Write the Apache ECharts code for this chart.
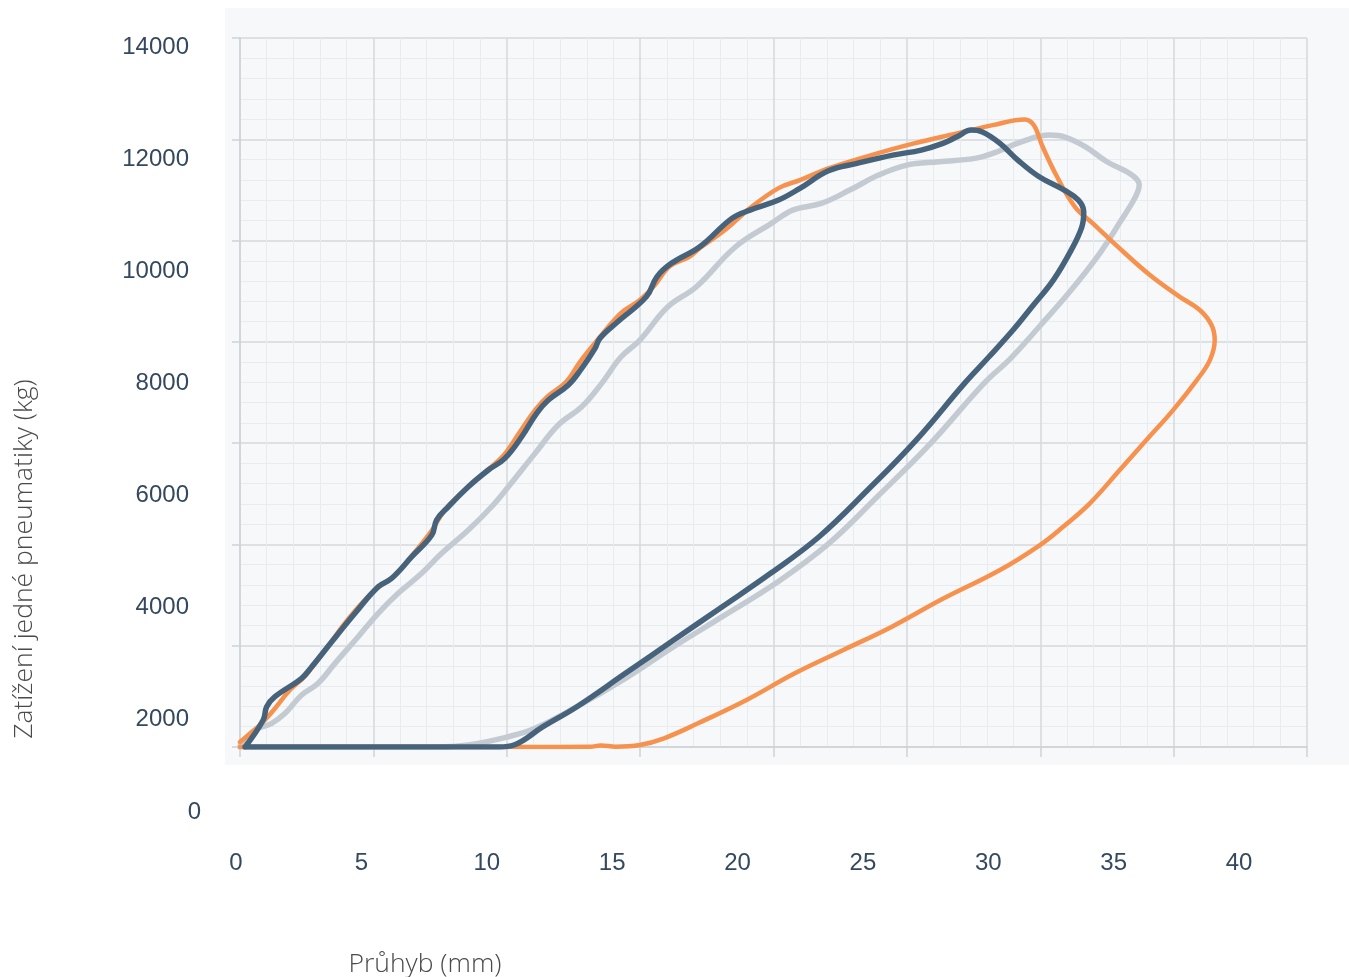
<!DOCTYPE html>
<html>
<head>
<meta charset="utf-8">
<title>Zatížení pneumatiky vs. průhyb</title>
<script src="https://cdn.jsdelivr.net/npm/echarts@6/dist/echarts.min.js"></script>
<style>
  html, body { margin: 0; padding: 0; background: #ffffff; }
  #chart { width: 1349px; height: 977px; }
</style>
</head>
<body>
<div id="chart"></div>
<script>
// Axis ticks
const xTicks = [0, 5, 10, 15, 20, 25, 30, 35, 40];
const yTicks = [0, 2000, 4000, 6000, 8000, 10000, 12000, 14000];

// Axis titles
const xTitle = 'Průhyb (mm)';
const yTitle = 'Zatížení jedné pneumatiky (kg)';

// Load cycles: [deflection mm, load kg] — loading, unloading, back along zero
const loopOrange = [
  [0, 99], [0.45, 296], [0.86, 494], [1.2, 691], [1.87, 1125], [2.44, 1402], [3.19, 1915],
  [4.12, 2567], [5.06, 3100], [5.81, 3396], [6.56, 3850], [7.2, 4284], [7.68, 4679],
  [8.43, 5074], [9.18, 5429], [9.86, 5745], [10.49, 6219], [11.06, 6653], [11.54, 6930],
  [12.22, 7206], [12.74, 7601], [13.34, 7996], [14.28, 8569], [14.99, 8825], [15.52, 9101],
  [16.12, 9496], [16.83, 9674], [17.24, 9852], [18.18, 10207], [19.12, 10641], [20.19, 11036],
  [20.99, 11194], [22.06, 11425], [23.67, 11688], [25.27, 11919], [26.88, 12116],
  [28.22, 12280], [29.42, 12393], [29.76, 12280], [30.09, 11852], [30.63, 11260],
  [31.3, 10667], [31.97, 10339], [32.77, 9945], [34.11, 9319], [35.23, 8890], [35.98, 8628],
  [36.42, 8332], [36.54, 8036], [36.36, 7640], [35.87, 7246], [34.98, 6653], [33.98, 6061],
  [32.98, 5469], [31.86, 4811], [30.86, 4349], [29.99, 3988], [28.49, 3495], [26.26, 2902],
  [24.44, 2376], [22.62, 1915], [20.8, 1455], [18.99, 928], [17.17, 468], [15.9, 172],
  [14.99, 39], [14.08, 6], [13.53, 30], [13.12, 4], [10.81, 0], [5, 0], [0, 0]
];

const loopGray = [
  [0, 0], [0.06, 73], [0.56, 336], [1.19, 468], [1.69, 665], [2.31, 1027], [2.93, 1258],
  [3.56, 1652], [4.43, 2178], [5.18, 2640], [5.93, 3035], [6.81, 3429], [7.56, 3824],
  [8.56, 4284], [9.43, 4744], [10.06, 5139], [11.06, 5798], [11.93, 6357], [12.81, 6719],
  [13.56, 7181], [14.28, 7700], [14.99, 8035], [16.04, 8693], [17.11, 9088], [18.58, 9878],
  [19.92, 10339], [20.72, 10602], [21.79, 10734], [22.86, 10997], [23.94, 11293], [25.0, 11491],
  [26.21, 11556], [27.55, 11623], [28.22, 11721], [29.29, 11950], [30.36, 12083], [30.9, 12049],
  [31.7, 11852], [32.5, 11556], [33.44, 11293], [33.71, 11096], [33.57, 10865], [33.04, 10405],
  [32.23, 9747], [31.16, 9023], [29.96, 8298], [28.89, 7674], [27.89, 7181], [25.89, 5996],
  [23.89, 4942], [22.08, 4022], [20.08, 3232], [18.08, 2573], [16.26, 1980], [14.45, 1356],
  [12.63, 796], [11.06, 369], [10.06, 203], [8.56, 39], [7.31, 0], [3.5, 0], [0, 0]
];

const loopDark = [
  [0.19, 0], [0.87, 533], [1.0, 795], [1.31, 993], [2.31, 1357], [2.69, 1585], [3.44, 2079],
  [4.31, 2640], [5.18, 3165], [5.69, 3331], [6.44, 3757], [7.19, 4186], [7.37, 4482],
  [7.81, 4744], [8.56, 5139], [9.31, 5469], [9.93, 5700], [10.56, 6126], [11.12, 6588],
  [11.56, 6851], [12.31, 7147], [12.81, 7477], [13.31, 7872], [13.49, 8069], [14.16, 8397],
  [15.23, 8890], [15.63, 9285], [16.17, 9550], [17.24, 9878], [18.44, 10438], [19.12, 10602],
  [20.19, 10800], [20.99, 11031], [22.06, 11378], [23.13, 11524], [24.47, 11688],
  [25.54, 11787], [26.35, 11919], [26.88, 12049], [27.41, 12181], [27.81, 12148],
  [28.49, 11919], [29.16, 11589], [29.96, 11260], [30.9, 10997], [31.43, 10800],
  [31.63, 10569], [31.56, 10272], [31.16, 9812], [30.49, 9220], [29.69, 8693], [28.98, 8233],
  [28.08, 7706], [27.16, 7181], [25.35, 6061], [23.53, 5074], [21.71, 4152], [19.89, 3429],
  [18.08, 2770], [16.26, 2113], [14.45, 1455], [12.63, 796], [11.36, 401], [10.27, 39],
  [9.72, 0], [5, 0], [0.19, 0]
];

const xMin = xTicks[0], xMax = xTicks[xTicks.length - 1], xStep = xTicks[1] - xTicks[0];
const yMin = yTicks[0], yMax = yTicks[yTicks.length - 1], yStep = yTicks[1] - yTicks[0];

const labelFont = '"Liberation Sans", Arial, Helvetica, sans-serif';
const labelColor = '#34495e';
const majorGrid = '#d6dadd';
const minorGrid = '#e9ecee';

const chart = echarts.init(document.getElementById('chart'), null, { renderer: 'canvas' });

function lineSeries(name, data, color, width) {
  return {
    name: name,
    type: 'line',
    xAxisIndex: 0,
    yAxisIndex: 0,
    data: data,
    showSymbol: false,
    smooth: 0.4,
    lineStyle: { color: color, width: width, cap: 'round', join: 'round' },
    itemStyle: { color: color },
    emphasis: { disabled: true },
    animation: false
  };
}

chart.setOption({
  backgroundColor: '#ffffff',
  animation: false,
  graphic: [
    {
      type: 'rect',
      z: -10,
      silent: true,
      shape: { x: 225, y: 8, width: 1124, height: 757 },
      style: { fill: '#f6f8f9' }
    },
    {
      type: 'text',
      x: 24, y: 559,
      rotation: Math.PI / 2,
      silent: true,
      style: {
        text: yTitle,
        font: '300 26.5px "Open Sans", "Noto Sans", sans-serif',
        fill: '#4a4a4a',
        align: 'center', verticalAlign: 'middle',
        textAlign: 'center', textVerticalAlign: 'middle'
      }
    },
    {
      type: 'text',
      x: 425, y: 964,
      silent: true,
      style: {
        text: xTitle,
        font: '300 26.5px "Open Sans", "Noto Sans", sans-serif',
        fill: '#4a4a4a',
        align: 'center', verticalAlign: 'middle',
        textAlign: 'center', textVerticalAlign: 'middle'
      }
    }
  ],
  grid: [
    { left: 240, top: 38, width: 1067, height: 709 },   // plot area
    { left: 236, top: 47, width: 1003, height: 785 },   // tick labels
    { left: 236, top: 27, width: 1003, height: 785 }    // zero label
  ],
  xAxis: [
    {
      gridIndex: 0, type: 'value', min: xMin, max: xMax, interval: xStep,
      axisLabel: { show: false },
      axisLine: { show: true, lineStyle: { color: '#cdd2d6', width: 1.5 } },
      axisTick: { show: true, length: 10, lineStyle: { color: '#cdd2d6', width: 1.5 } },
      splitLine: { show: true, lineStyle: { color: majorGrid, width: 1.5 } },
      minorTick: { show: false, splitNumber: 5 },
      minorSplitLine: { show: true, lineStyle: { color: minorGrid, width: 1 } }
    },
    {
      gridIndex: 1, type: 'value', min: xMin, max: xMax, interval: xStep,
      axisLine: { show: false }, axisTick: { show: false }, splitLine: { show: false },
      axisLabel: { margin: 19, fontSize: 24, color: labelColor, fontFamily: labelFont }
    },
    {
      gridIndex: 2, type: 'value', min: xMin, max: xMax, interval: xStep, show: false
    }
  ],
  yAxis: [
    {
      gridIndex: 0, type: 'value', min: yMin, max: yMax, interval: yStep,
      axisLabel: { show: false },
      axisLine: { show: true, lineStyle: { color: '#cdd2d6', width: 1.5 } },
      axisTick: { show: true, length: 8, lineStyle: { color: '#cdd2d6', width: 1.5 } },
      splitLine: { show: true, lineStyle: { color: majorGrid, width: 1.5 } },
      minorTick: { show: false, splitNumber: 5 },
      minorSplitLine: { show: true, lineStyle: { color: minorGrid, width: 1 } }
    },
    {
      gridIndex: 1, type: 'value', min: yMin, max: yMax, interval: yStep,
      axisLine: { show: false }, axisTick: { show: false }, splitLine: { show: false },
      axisLabel: {
        margin: 47, fontSize: 24, color: labelColor, fontFamily: labelFont,
        formatter: v => (v === yMin ? '' : String(v))
      }
    },
    {
      gridIndex: 2, type: 'value', min: yMin, max: yMax, interval: yStep,
      axisLine: { show: false }, axisTick: { show: false }, splitLine: { show: false },
      axisLabel: {
        margin: 35, fontSize: 24, color: labelColor, fontFamily: labelFont,
        formatter: v => (v === yMin ? String(v) : '')
      }
    }
  ],
  series: [
    lineSeries('Pneumatika B', loopGray, '#c3cad2', 5.5),
    lineSeries('Pneumatika A', loopOrange, '#f7914e', 4.5),
    lineSeries('Pneumatika C', loopDark, '#47637c', 5.5)
  ]
});
</script>
</body>
</html>
